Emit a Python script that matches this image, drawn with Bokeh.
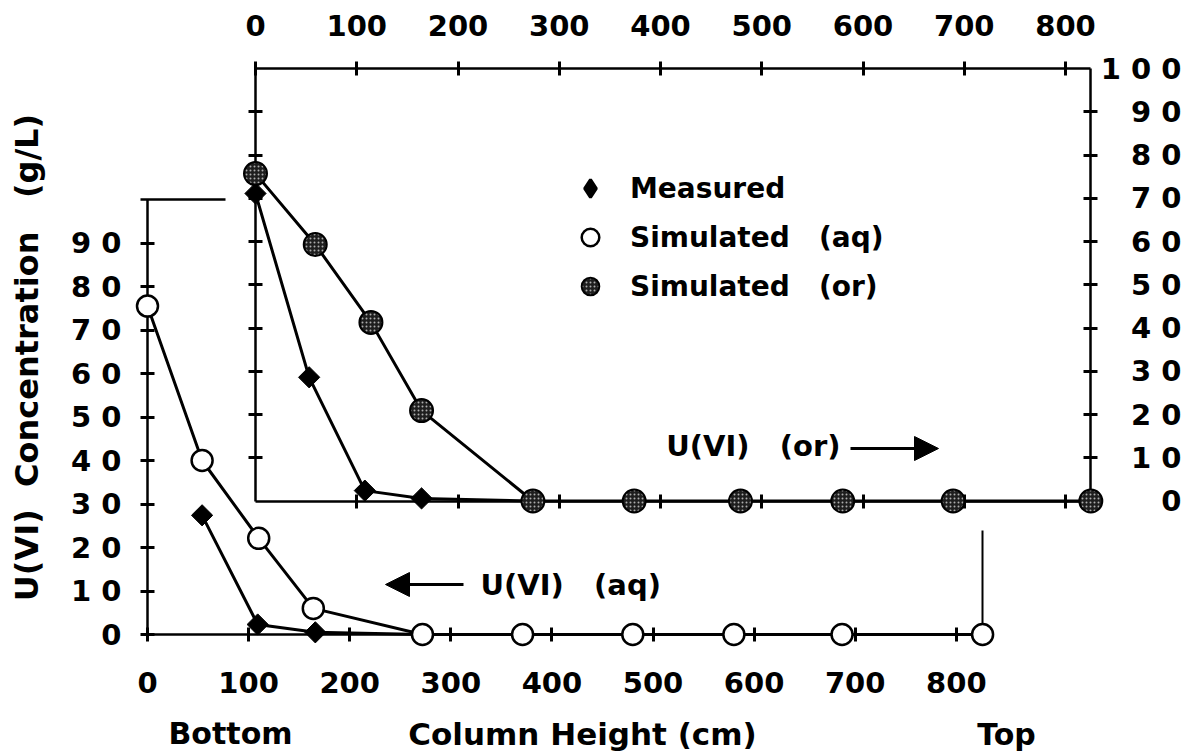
import math
from bokeh.plotting import figure
from bokeh.models import (Range1d, LinearAxis, FixedTicker, Legend, LegendItem,
                          Label, Arrow, NormalHead)
from bokeh.embed import file_html
from bokeh.resources import INLINE

# ---------------- data ----------------
# Column height (cm) and U(VI) concentration (g/L)
aq_sim_x = [0, 54, 110, 164, 272, 371, 480, 580, 687, 826]
aq_sim_y = [75.5, 40.0, 22.1, 6.0, 0, 0, 0, 0, 0, 0]
aq_meas_x = [54, 109, 166, 272]
aq_meas_y = [27.4, 2.3, 0.5, 0]

or_sim_x = [0, 59, 114, 164, 274, 374, 479, 580, 689, 825]
or_sim_y = [75.7, 59.3, 41.3, 20.9, 0, 0, 0, 0, 0, 0]
or_meas_x = [0, 53, 108, 164, 274]
or_meas_y = [71.1, 28.6, 2.4, 0.6, 0]

height_ticks = [0, 100, 200, 300, 400, 500, 600, 700, 800]
aq_ticks = [0, 10, 20, 30, 40, 50, 60, 70, 80, 90]
aq_tick_labels = ["0", "1 0", "2 0", "3 0", "4 0", "5 0", "6 0", "7 0", "8 0", "9 0"]
or_ticks = [0, 10, 20, 30, 40, 50, 60, 70, 80, 90, 100]
or_tick_labels = ["0", "1 0", "2 0", "3 0", "4 0", "5 0", "6 0", "7 0", "8 0", "9 0", "1 0 0"]

legend_labels = ["Measured", "Simulated \u00a0\u00a0(aq)", "Simulated \u00a0\u00a0(or)"]
y_title = "U(VI) \u00a0Concentration \u00a0\u00a0(g/L)"
x_title = "Column Height (cm)"

# ---------------- layout (pixel geometry of the page) ----------------
W, H = 1196, 753
BX0, BXS = 147.0, 1.011      # bottom axis: pixel of 0 cm, px per cm
LY0, LYS = 634.0, 4.35       # left axis: pixel of 0, px per unit
TX0, TXS = 255.0, 1.0125     # top axis
RY0, RYS = 500.5, 4.325      # right axis


def bx(px):
    return (px - BX0) / BXS


def ly(py):
    return (LY0 - py) / LYS


def tx(px):
    return (px - TX0) / TXS


def ry(py):
    return (RY0 - py) / RYS


FONT = "DejaVu Sans"

p = figure(width=W, height=H,
           x_range=Range1d(bx(0), bx(W)),
           y_range=Range1d(ly(H), ly(0)),
           x_axis_type=None, y_axis_type=None,
           toolbar_location=None, output_backend="svg", title=None)
p.extra_x_ranges = {"top": Range1d(tx(0), tx(W))}
p.extra_y_ranges = {"right": Range1d(ry(H), ry(0))}
p.min_border = 0
p.min_border_left = 0
p.min_border_right = 0
p.min_border_top = 0
p.min_border_bottom = 0
p.outline_line_color = None
p.background_fill_color = "white"
p.border_fill_color = "white"


def add_axis(side, ticks, labels=None, show_labels=True, tick_len=7, **kw):
    opts = dict(ticker=FixedTicker(ticks=ticks), level="underlay",
                axis_line_width=2.5, axis_line_color="black",
                major_tick_line_width=3, major_tick_line_color="black",
                major_tick_in=tick_len, major_tick_out=tick_len,
                minor_tick_line_color=None,
                major_label_text_font=FONT,
                major_label_text_font_style="bold",
                major_label_text_font_size="29px",
                major_label_text_color="black" if show_labels else None)
    opts.update(kw)
    ax = LinearAxis(**opts)
    if labels is not None:
        ax.major_label_overrides = {t: s for t, s in zip(ticks, labels)}
    p.add_layout(ax, side)
    return ax


# bottom axis (column height, aqueous frame)
add_axis("below", height_ticks, fixed_location=0, bounds=(0, aq_sim_x[-1]),
         major_label_standoff=30)
# left axis (aqueous concentration)
add_axis("left", aq_ticks, aq_tick_labels, fixed_location=0, bounds=(0, 100),
         major_label_standoff=19)
# short stub at the top of the left axis
add_axis("above", [], show_labels=False, fixed_location=100, bounds=(bx(140), bx(225)))
# "Top" marker line above the last aqueous point
add_axis("right", [], show_labels=False, fixed_location=aq_sim_x[-1],
         bounds=(0, ly(530)), axis_line_width=2)

# top axis (organic frame)
add_axis("above", height_ticks, x_range_name="top", y_range_name="right",
         fixed_location=100, bounds=(0, or_sim_x[-1]), major_label_standoff=26)
# right axis line and ticks
add_axis("right", or_ticks[:-1], show_labels=False, x_range_name="top",
         y_range_name="right", fixed_location=or_sim_x[-1], bounds=(0, 100))
# right axis labels (right-aligned column)
add_axis("left", or_ticks, or_tick_labels, x_range_name="top", y_range_name="right",
         fixed_location=tx(1181), tick_len=0, major_label_standoff=0,
         axis_line_color=None, major_tick_line_color=None)
# inner axes of the organic frame
add_axis("below", height_ticks[1:], show_labels=False, x_range_name="top",
         y_range_name="right", fixed_location=0, bounds=(0, or_sim_x[-1]))
add_axis("left", or_ticks[1:-1], show_labels=False, x_range_name="top",
         y_range_name="right", fixed_location=0, bounds=(0, 100))

# ---------------- data glyphs ----------------
LW = 3
p.line(aq_sim_x, aq_sim_y, line_color="black", line_width=LW)
p.line(aq_meas_x, aq_meas_y, line_color="black", line_width=LW)
p.line(or_sim_x, or_sim_y, line_color="black", line_width=LW,
       x_range_name="top", y_range_name="right")
p.line(or_meas_x, or_meas_y, line_color="black", line_width=LW,
       x_range_name="top", y_range_name="right")

# narrow diamond (used as the legend key), covered by the rotated squares
meas_key = p.scatter(aq_meas_x, aq_meas_y, marker="diamond", size=16,
                     fill_color="black", line_color="black", line_width=3)
p.scatter(aq_meas_x, aq_meas_y, marker="square", angle=math.pi / 4,
          size=15, fill_color="black", line_color="black", line_width=1)
p.scatter(or_meas_x, or_meas_y, marker="square", angle=math.pi / 4,
          size=15, fill_color="black", line_color="black", line_width=1,
          x_range_name="top", y_range_name="right")

sim_aq = p.scatter(aq_sim_x, aq_sim_y, marker="circle", size=21,
                   fill_color="white", line_color="black", line_width=2.5)
sim_or = p.scatter(or_sim_x, or_sim_y, marker="circle", size=23,
                   fill_color="#1e1e1e", line_color="black", line_width=2,
                   hatch_pattern="dot", hatch_color="#cfcfcf", hatch_scale=4,
                   hatch_weight=1.2, hatch_alpha=0.8,
                   x_range_name="top", y_range_name="right")

# ---------------- legend ----------------
GL = 44
legend = Legend(items=[LegendItem(label=legend_labels[0], renderers=[meas_key]),
                       LegendItem(label=legend_labels[1], renderers=[sim_aq]),
                       LegendItem(label=legend_labels[2], renderers=[sim_or])],
                location=(568, H - 308), orientation="vertical",
                padding=0, spacing=5, margin=0,
                glyph_width=GL, glyph_height=GL, label_standoff=18,
                label_text_font=FONT, label_text_font_style="bold",
                label_text_font_size="28px", label_text_color="black",
                background_fill_alpha=0, border_line_color=None)
p.add_layout(legend)


# ---------------- annotations ----------------
def add_label(x, y, text, size, align, angle=0):
    p.add_layout(Label(x=x, y=y, text=text, text_font=FONT,
                       text_font_style="bold", text_font_size=size,
                       text_color="black", text_align=align,
                       text_baseline="middle", angle=angle))


add_label(bx(840), ly(445), "U(VI) \u00a0\u00a0(or)", "29px", "right")
add_label(bx(480), ly(584), "U(VI) \u00a0\u00a0(aq)", "29px", "left")
add_label(bx(582), ly(733), x_title, "31px", "center")
add_label(bx(230), ly(733), "Bottom", "30px", "center")
add_label(bx(1006), ly(734), "Top", "30px", "center")
add_label(bx(26), ly(357), y_title, "32px", "center", angle=math.pi / 2)

p.add_layout(Arrow(end=NormalHead(size=24, fill_color="black", line_color="black"),
                   x_start=bx(850), y_start=ly(448), x_end=bx(938), y_end=ly(448),
                   line_width=3, line_color="black"))
p.add_layout(Arrow(end=NormalHead(size=24, fill_color="black", line_color="black"),
                   x_start=bx(463), y_start=ly(584), x_end=bx(385), y_end=ly(584),
                   line_width=3, line_color="black"))

open("out.html", "w").write(file_html(p, INLINE))
